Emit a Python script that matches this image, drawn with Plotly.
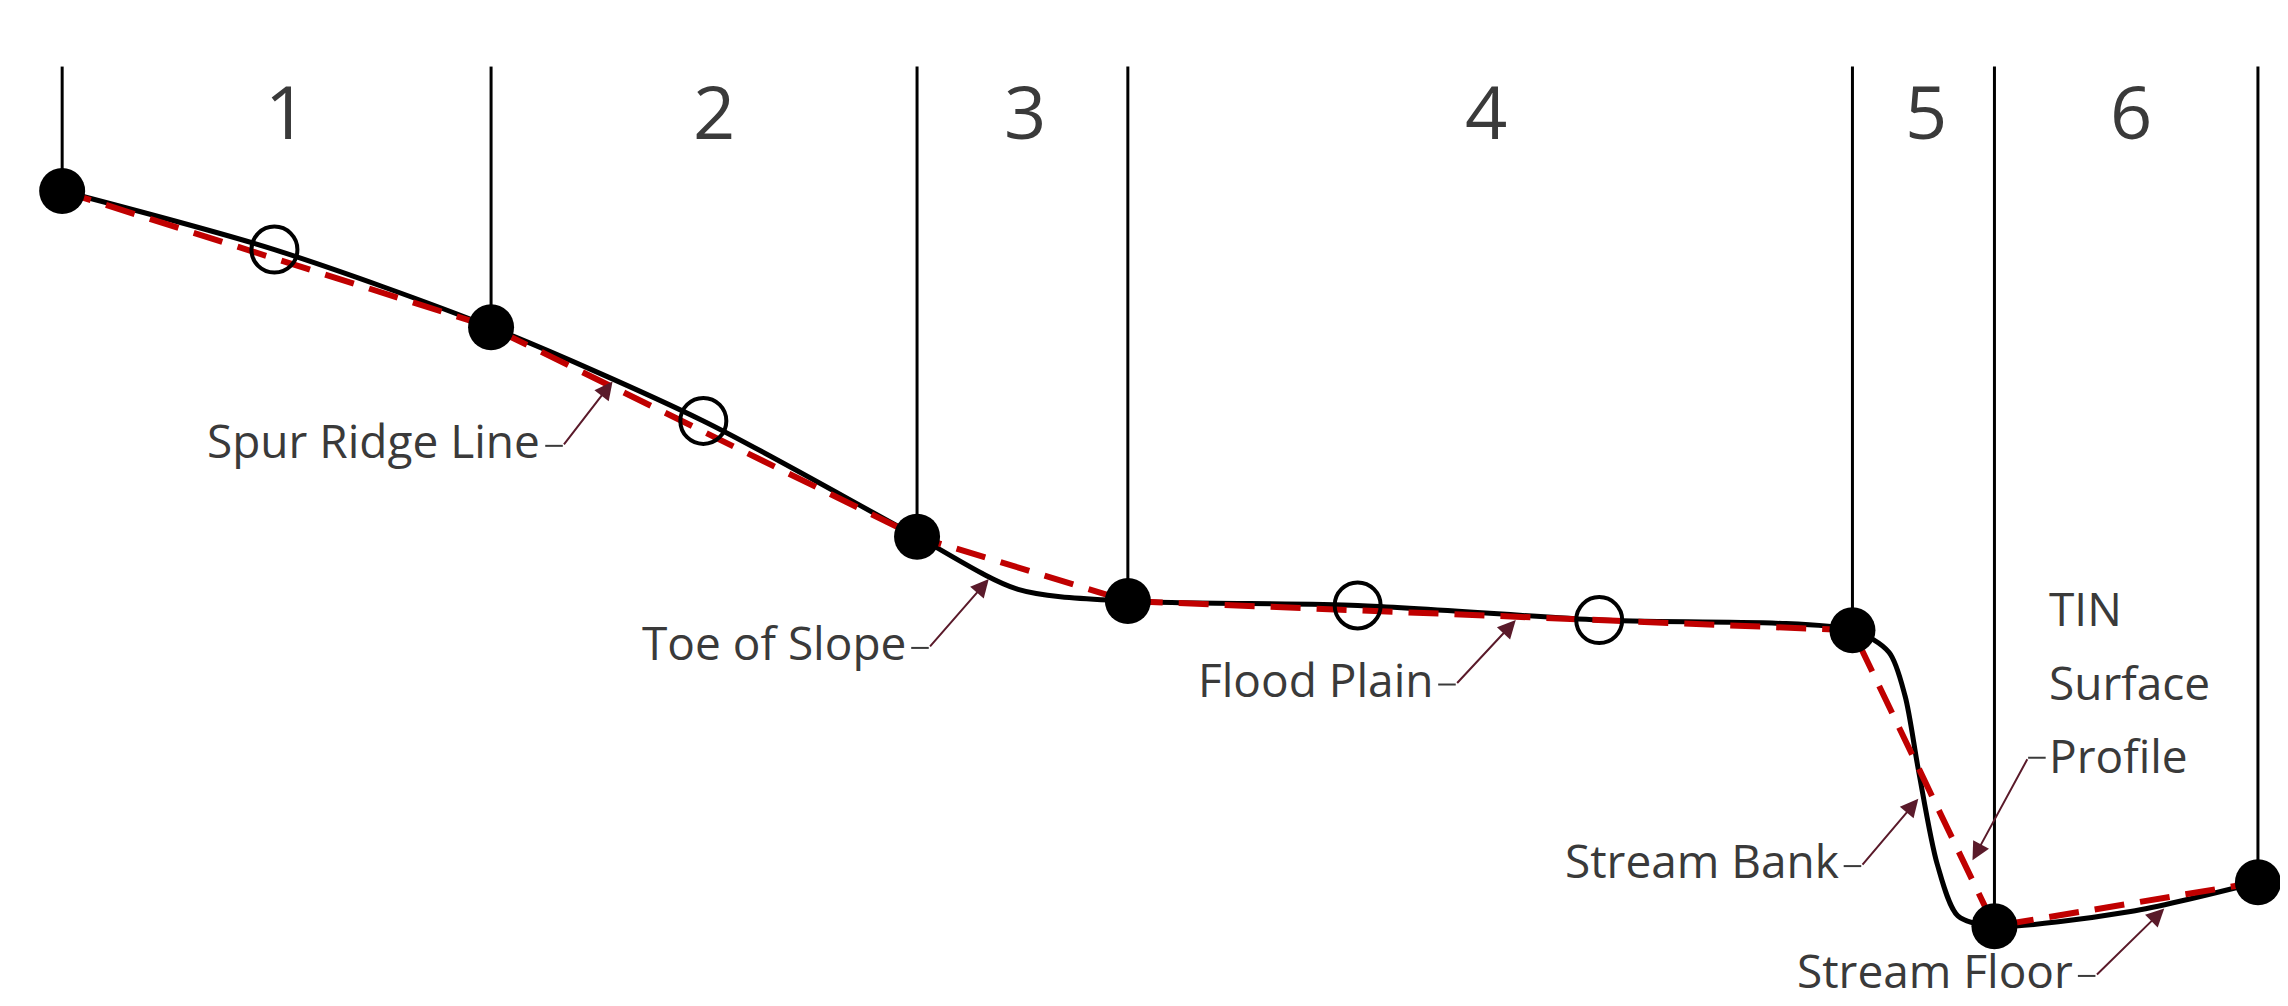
import plotly.graph_objects as go

# key points (diagram units, y downward)
key_x = [37, 330, 621, 765, 1260, 1357, 1537]
key_y = [125, 218, 361, 405, 425, 627, 597]
mid_x = [182, 475, 922, 1087]
mid_y = [165, 282, 408, 418]
# TIN surface profile (smooth black)
prof_x = [37, 182, 330, 475, 621, 690, 765, 922, 1087, 1260, 1285, 1296, 1305, 1318, 1332, 1357, 1450, 1537]
prof_y = [125, 165, 218, 282, 361, 397, 405, 408, 418, 425, 440, 470, 520, 585, 620, 627, 617, 597]
zone_labels = ["1", "2", "3", "4", "5", "6"]
zone_x = [190, 482, 695, 1010, 1310, 1450]
labels = ["Spur Ridge Line", "Toe of Slope", "Flood Plain", "Stream Bank", "Stream Floor"]
label_x = [365, 615, 975, 1252, 1412]
label_y = [295, 433, 458, 582, 657]
arrow_tx = [413, 670, 1030, 1305, 1473]
arrow_ty = [255, 390, 418, 540, 615]

fig = go.Figure()
fig.add_trace(go.Scatter(x=prof_x, y=prof_y, mode="lines", line=dict(color="black", width=5, shape="spline", smoothing=0.8), hoverinfo="skip"))
fig.add_trace(go.Scatter(x=key_x, y=key_y, mode="lines", line=dict(color="#c00000", width=6, dash="30px,16px"), hoverinfo="skip"))
fig.add_trace(go.Scatter(x=mid_x, y=mid_y, mode="markers", marker=dict(size=46, color="rgba(0,0,0,0)", line=dict(color="black", width=4)), hoverinfo="skip"))
fig.add_trace(go.Scatter(x=key_x, y=key_y, mode="markers", marker=dict(size=46, color="black"), hoverinfo="skip"))

for x, y in zip(key_x, key_y):
    fig.add_shape(type="line", x0=x, x1=x, y0=40, y1=y - 14, line=dict(color="black", width=3))

font = dict(family="Open Sans", color="#3a3a3a")
for t, x in zip(zone_labels, zone_x):
    fig.add_annotation(x=x, y=70, text=t, showarrow=False, font=dict(size=74, **font))

arrow_col = "#5a1a2a"
for t, x, y, tx, ty in zip(labels, label_x, label_y, arrow_tx, arrow_ty):
    fig.add_annotation(x=x, y=y, text=t, showarrow=False, xanchor="right", font=dict(size=46, **font))
    fig.add_shape(type="line", x0=x + 2, x1=x + 14, y0=y + 4, y1=y + 4, line=dict(color="#3a3a3a", width=2))
    fig.add_annotation(x=tx, y=ty, ax=x + 14, ay=y + 4, axref="x", ayref="y", xref="x", yref="y",
                       text="", showarrow=True, arrowhead=2, arrowsize=1.8, arrowwidth=2, arrowcolor=arrow_col)

for i, t in enumerate(["TIN", "Surface", "Profile"]):
    fig.add_annotation(x=1393, y=410 + 50 * i, text=t, showarrow=False, xanchor="left", font=dict(size=46, **font))
fig.add_shape(type="line", x0=1380, x1=1392, y0=512, y1=512, line=dict(color="#3a3a3a", width=2))
fig.add_annotation(x=1342, y=582, ax=1380, ay=512, axref="x", ayref="y", xref="x", yref="y",
                   text="", showarrow=True, arrowhead=2, arrowsize=1.8, arrowwidth=2, arrowcolor=arrow_col)

fig.update_layout(width=2288, height=1006, margin=dict(l=0, r=0, t=0, b=0),
                  paper_bgcolor="white", plot_bgcolor="white", showlegend=False,
                  xaxis=dict(range=[0, 1563], visible=False),
                  yaxis=dict(range=[687, 0], visible=False))
fig.write_html("out.html")
